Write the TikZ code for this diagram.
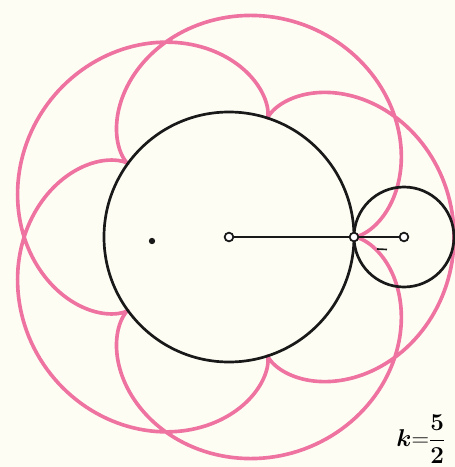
\documentclass[tikz,border=0pt]{standalone}
\usepackage{amsmath,amssymb}
\usepackage{tikz}
\usetikzlibrary{positioning,calc}
\definecolor{epiPink}{RGB}{238,115,160}
\definecolor{epiPaper}{RGB}{254,253,244}
\tikzset{
  epicurve/.style={draw=epiPink, line width=3.1pt, line join=round},
  epicirc/.style={draw=black!90, line width=2.3pt},
  epirod/.style={draw=black!90, line width=1.8pt},
  epijoint/.style={circle, draw=black!90, fill=white, line width=1.5pt,
                   minimum size=2.6mm, inner sep=0pt},
  epidot/.style={circle, fill=black!90, minimum size=1.9mm, inner sep=0pt},
  epilab/.style={font=\fontsize{20}{22}\selectfont, inner sep=0pt},
}
\newcommand{\epiRatio}{$\boldsymbol{k}\mathbf{=}\dfrac{\mathbf{5}}{\mathbf{2}}$}

\begin{document}
\begin{tikzpicture}[x=0.03cm, y=0.03cm]
  \useasboundingbox (-229,-230) rectangle (226,237);
  \fill[epiPaper] (-229,-230) rectangle (226,237);
  % epicycloid, R=125, r=50
  \draw[epicurve] plot[domain=0:720, samples=721]
    ({175*cos(\x)-50*cos(3.5*\x)}, {175*sin(\x)-50*sin(3.5*\x)});
  \draw[epicirc] (0,0) circle[radius=125];
  \draw[epicirc] (175,0) circle[radius=50];
  \node[epijoint] (O) at (0,0) {};
  \node[epijoint] (T) at (125,0) {};
  \node[epijoint] (C) at (175,0) {};
  \node[epidot] (P) at (-77,-4) {};
  \draw[epirod] (O) -- (T);
  \draw[epirod] (T) -- (C);
  \coordinate (m1) at (148,-12);
  \coordinate (m2) at (158,-12.5);
  \draw[epirod, line width=1.4pt] (m1) -- (m2);
  \node[epilab] (ratio) at (192,-202) {\epiRatio};
\end{tikzpicture}
\end{document}
